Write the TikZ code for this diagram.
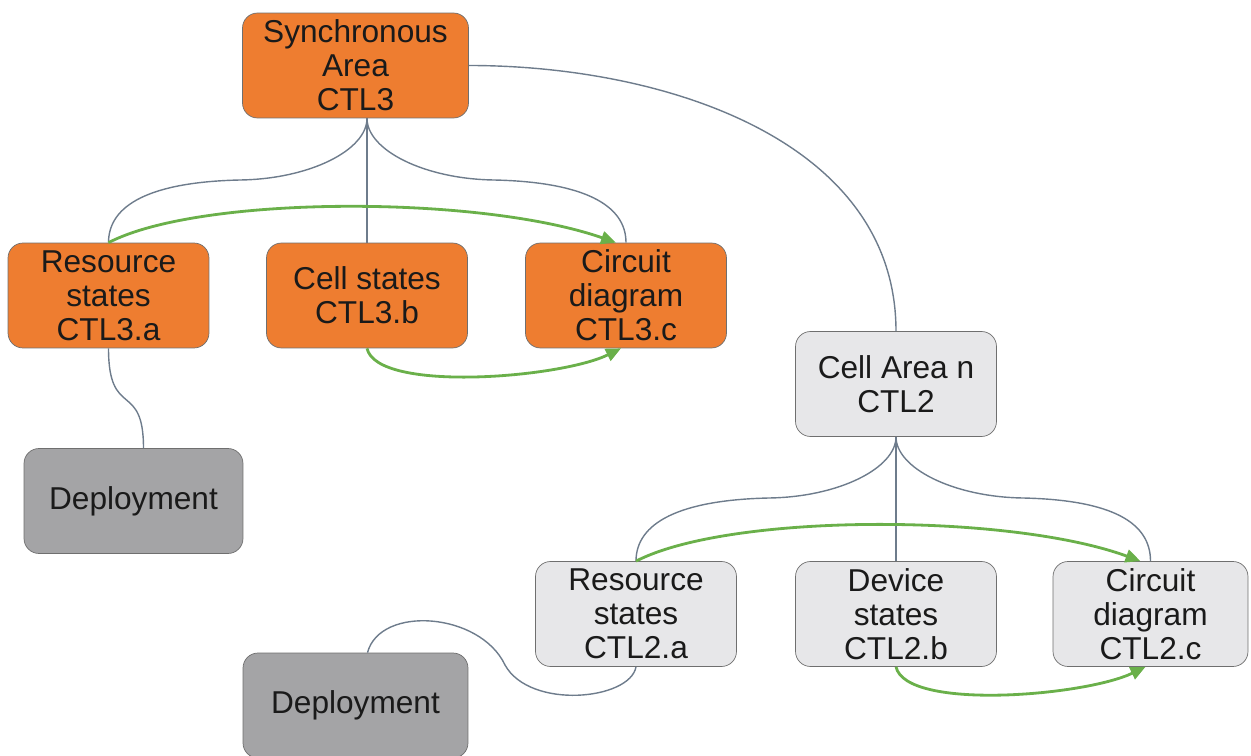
\documentclass[tikz,border=0pt]{standalone}
\usepackage{fontspec}
\setmainfont{Liberation Sans}
\usetikzlibrary{arrows.meta}
\usetikzlibrary{positioning}

\definecolor{ctlorange}{HTML}{EE7D30}
\definecolor{ctlgray}{HTML}{E7E7E9}
\definecolor{depgray}{HTML}{A4A4A6}
\definecolor{boxline}{HTML}{6F6F6F}
\definecolor{linkgray}{HTML}{6E7C8C}
\definecolor{flowgreen}{HTML}{6AB04A}
\definecolor{textcol}{HTML}{1A1A1A}

\begin{document}
\begin{tikzpicture}[x=0.02cm,y=-0.02cm]
			\tikzset{box/.style = {shape=rectangle,draw=boxline,rounded corners=0.3cm,
					minimum width=4.02cm,minimum height=2.1cm,inner sep=0pt,
					align=center,text=textcol,font=\fontsize{18}{19.4}\selectfont}}
			\tikzset{ctlthree/.style = {box,fill=ctlorange}}
			\tikzset{ctltwo/.style = {box,fill=ctlgray}}
			\tikzset{deploy/.style = {box,fill=depgray,minimum width=4.4cm}}
			\tikzset{link/.style = {draw=linkgray,line width=0.8pt}}
			\tikzset{flow/.style = {-{Triangle[length=3mm,width=2.6mm]},draw=flowgreen,line width=1.6pt}}

		\useasboundingbox (0,0) rectangle (1251,756);

		% vertices
		\node[ctlthree,minimum width=4.52cm] (sync) at (355.5,65.5) {Synchronous\\Area\\CTL3};
		\node[ctlthree] (resa) at (108.5,295.5) {Resource\\states\\CTL3.a};
		\node[ctlthree] (cellb) at (367,295.5) {Cell states\\CTL3.b};
		\node[ctlthree] (circc) at (626,295.5) {Circuit\\diagram\\CTL3.c};
		\node[deploy,minimum width=4.38cm] (depa) at (133.5,501) {Deployment};

		\node[ctltwo] (cellarea) at (896,384) {Cell Area n\\CTL2};
		\node[ctltwo] (resb) at (636,614) {Resource\\states\\CTL2.a};
		\node[ctltwo] (devb) at (896,614) {Device\\states\\CTL2.b};
		\node[ctltwo,minimum width=3.9cm] (circb) at (1150.5,614) {Circuit\\diagram\\CTL2.c};
		\node[deploy,minimum width=4.5cm] (depb) at (355.5,705.5) {Deployment};

		%edges
		\coordinate (hubc) at (cellb.north |- sync.south);
		\draw[link] (hubc) -- (cellb.north);
		\draw[link] (hubc) .. controls (367,150) and (310,179) .. (240,180)
			.. controls (150,182) and (108.5,205) .. (resa.north);
		\draw[link] (hubc) .. controls (367,150) and (424,179) .. (494,180)
			.. controls (584,182) and (626,205) .. (circc.north);
		\draw[link] (sync.east) .. controls (664,65.5) and (896,140) .. (cellarea.north);
		\draw[link] (resa.south) .. controls (108.5,420) and (143.5,380) .. ([xshift=0.2cm]depa.north);

		\draw[link] (cellarea.south) -- (devb.north);
		\draw[link] (cellarea.south) .. controls (896,468) and (839,497) .. (769,498)
			.. controls (679,500) and (636,523) .. (resb.north);
		\draw[link] (cellarea.south) .. controls (896,468) and (953,497) .. (1023,498)
			.. controls (1113,500) and (1150.5,523) .. (circb.north);
		\draw[link] (resb.south) .. controls (630,700) and (530,710) .. (505,665)
			.. controls (480,612) and (380,605) .. ([xshift=0.24cm]depb.north);

		\draw[flow] (resa.north) .. controls (200,195) and (480,195) .. ([xshift=-0.2cm]circc.north);
		\draw[flow] (cellb.south) .. controls (377,393) and (561,378) .. ([xshift=-0.1cm]circc.south);
		\draw[flow] (resb.north) .. controls (729,513) and (1009,513) .. ([xshift=-0.2cm]circb.north);
		\draw[flow] (devb.south) .. controls (906,711) and (1085,696) .. ([xshift=-0.1cm]circb.south);
\end{tikzpicture}
\end{document}
